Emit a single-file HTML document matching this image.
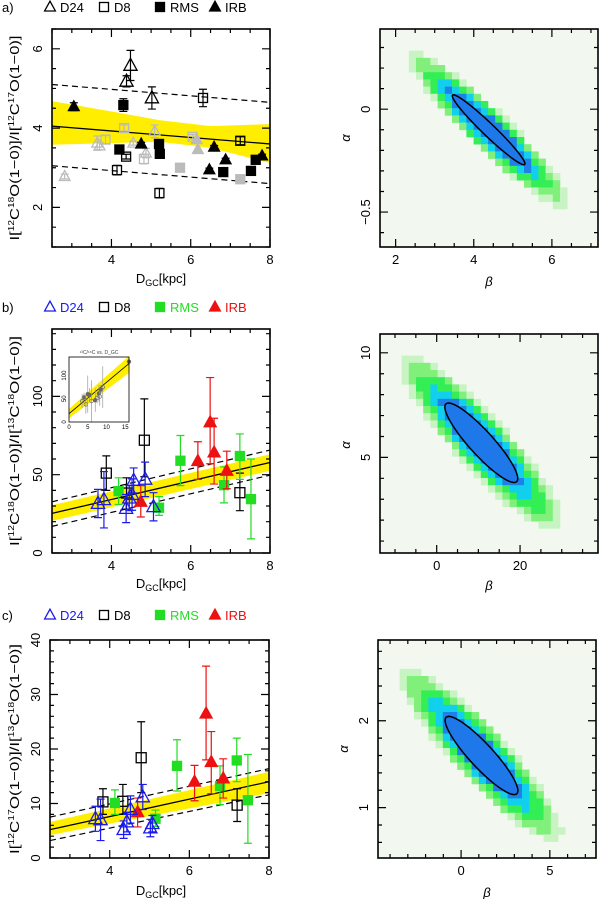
<!DOCTYPE html>
<html><head><meta charset="utf-8"><style>
html,body{margin:0;padding:0;background:#fff;}
svg{display:block;font-family:"Liberation Sans",Arial,sans-serif;}
</style></head><body>
<svg id="fig" width="600" height="899" viewBox="0 0 600 899" xmlns="http://www.w3.org/2000/svg"></svg>
<script>
// ---------- Panel a data ----------
const aD24X=[4.48,4.38,5.02], aD24Y=[5.58,5.18,4.76], aD24E=[0.38,0.14,0.28];
const aD8X=[6.31,7.25,4.37,4.14,5.21], aD8Y=[4.76,3.68,3.28,2.94,2.36], aD8E=[0.22,0.1,0.06,0.12,0.12];
const aRmsX=[4.30,4.20,5.20,5.22,6.82,7.52,7.64], aRmsY=[4.58,3.46,3.60,3.35,2.89,2.92,3.20], aRmsE=[0.16,0.04,0.08,0.1,0.04,0.04,0.06];
const aIrbX=[3.05,4.75,6.59,6.88,6.47,7.80], aIrbY=[4.54,3.60,3.52,3.20,2.95,3.30], aIrbE=[0.1,0.04,0.04,0.04,0.04,0.04];
const aGTriX=[2.82,3.64,4.55,4.87,5.09,3.70], aGTriY=[2.78,3.62,3.62,3.37,3.92,3.55], aGTriE=[0.06,0.18,0.05,0.12,0.16,0.1];
const aGSqX=[4.32,3.85,4.82,6.05], aGSqY=[4.00,3.71,3.22,3.78], aGSqE=[0.08,0.1,0.12,0.06];
const aGFTriX=[6.15,6.18], aGFTriY=[3.71,3.46];
const aGFSqX=[5.73,7.25], aGFSqY=[3.00,2.71];
const aFit=[4.05,3.60], aDashU=[5.1,4.65], aDashL=[3.05,2.6];
const aBandX=[2.5,4.0,5.2,6.5,8.0], aBandU=[4.68,4.42,4.2,4.05,4.1], aBandL=[3.58,3.62,3.66,3.5,3.12];
// ---------- Panel b data ----------
const bD24X=[3.66,3.81,4.37,4.45,4.52,4.56,4.85,5.06], bD24Y=[31.6,34,28.4,35,37.3,46.3,47,29.5], bD24E=[9,18,9,8,10,8,11,9];
const bD8X=[3.87,4.38,4.83,7.24], bD8Y=[51,38.3,72,38.5], bD8Lo=[40,28,48.7,27], bD8Hi=[62,48,98.4,51];
const bRmsX=[4.18,5.20,5.74,6.84,7.24,7.52], bRmsY=[39.5,28.9,58.9,43.3,61.9,34.4], bRmsLo=[31,24,43,32,47,9], bRmsHi=[48,36,75,55,76,60];
const bIrbX=[4.74,6.18,6.49,6.59,6.91], bIrbY=[32.7,58.7,83.4,64.2,52.5], bIrbLo=[23,47,57,44,41], bIrbHi=[43,71,112,86,65];
const bFit=[25.3,57.8], bDashU=[32.7,65.7], bDashL=[17,49.7], bBandU=[30.5,63], bBandL=[20.5,52.5];
const insetX=[4,4.5,5.5,6,7,7.5,8,8.2,8.5,3.5,5,9,16], insetY=[53,38,58,45,47,52,62,55,70,45,60,75,130], insetE=[10,20,15,45,25,12,18,20,10,15,40,45,8];
const insetFit=[18,126];
// ---------- Panel c data ----------
const cD24X=[3.64,3.77,4.35,4.43,4.52,4.83,5.02,5.07], cD24Y=[7.2,7.0,5.2,6.6,8.9,11.2,5.5,6.3], cD24E=[2.3,3.8,1.6,1.8,2.5,2.3,1.6,1.5];
const cD8X=[3.83,4.33,4.79,7.20], cD8Y=[10.3,10.4,18.4,9.7], cD8Lo=[8,8,12,6.7], cD8Hi=[12.7,13.5,25,12.7];
const cRmsX=[4.13,5.15,5.69,6.77,7.19,7.47], cRmsY=[10.1,7.2,16.9,13.2,17.9,10.6], cRmsLo=[8,5.8,12.3,9.8,14,2.7], cRmsHi=[12.5,8.8,21.7,16.9,22,19];
const cIrbX=[4.70,6.13,6.42,6.55,6.85], cIrbY=[8.4,14,26.5,17.6,14.6], cIrbLo=[5.7,10.5,18,11.8,11], cIrbHi=[11,17,35.2,23.2,18.2];
const cFit=[5.2,14.0], cDashU=[7.5,16.4], cDashL=[3.2,11.6], cBandU=[6.6,15.8], cBandL=[4.2,11.9];
// ---------- Likelihood maps (mean beta, mean alpha, sigma beta, sigma alpha, rho contour, rho map) ----------
const mapA=[4.38,-0.10,0.93,0.17,-0.97,-0.935];
const mapB=[10.7,5.7,8.75,1.9,-0.9,-0.9];
const mapC=[1.15,1.6,2.05,0.45,-0.9,-0.9];

const NS='http://www.w3.org/2000/svg';
const svg=document.getElementById('fig');
function el(tag,attrs,parent){const e=document.createElementNS(NS,tag);for(const k in attrs)e.setAttribute(k,attrs[k]);(parent||svg).appendChild(e);return e;}
function sc(d0,d1,p0,p1){return v=>p0+(v-d0)/(d1-d0)*(p1-p0);}

function frame(g,P,xt,xminor,yt,yminor){
  const X=sc(P.xmin,P.xmax,P.x0,P.x1), Y=sc(P.ymin,P.ymax,P.y1,P.y0);
  const f=el('rect',{x:P.x0,y:P.y0,width:P.x1-P.x0,height:P.y1-P.y0,fill:'none',stroke:'#000','stroke-width':1.6},g);
  
  
  let d='';
  for(let v=Math.ceil(P.xmin/xminor)*xminor;v<=P.xmax+1e-9;v+=xminor){const px=X(v);const maj=xt.some(t=>Math.abs(t-v)<1e-6);const L=maj?8:4;d+=`M${px},${P.y1}v${-L}M${px},${P.y0}v${L}`;}
  for(let v=Math.ceil(P.ymin/yminor)*yminor;v<=P.ymax+1e-9;v+=yminor){const py=Y(v);const maj=yt.some(t=>Math.abs(t-v)<1e-6);const L=maj?8:4;d+=`M${P.x0},${py}h${L}M${P.x1},${py}h${-L}`;}
  const tk=el('path',{d:d,stroke:'#000','stroke-width':1.2,fill:'none'},g);
  
  
  xt.forEach(v=>{const t=el('text',{x:X(v),y:P.y1+17,'font-size':13,'text-anchor':'middle'},g);t.textContent=String(v).replace('-','−');
    
    });
  yt.forEach(v=>{const yy=Y(v);const t=el('text',{x:P.x0-10,y:yy,'font-size':13,'text-anchor':'middle',transform:`rotate(-90 ${P.x0-10} ${yy})`},g);t.textContent=String(v).replace('-','−');
    
    });
  return {X,Y};
}

function errbar(g,px,pyLo,pyHi,col){
  const e=el('path',{d:`M${px},${pyLo}V${pyHi}M${px-4},${pyLo}h8M${px-4},${pyHi}h8`,stroke:col,'stroke-width':1.2,fill:'none'},g);
  
  
}
function marker(g,kind,px,py,col,s){
  s=s||9;let m;
  if(kind==='osq'||kind==='fsq'){m=el('rect',{x:px-s/2,y:py-s/2,width:s,height:s,fill:kind==='fsq'?col:'none',stroke:col,'stroke-width':1.3},g);}
  else{const h=s*1.05;m=el('path',{d:`M${px},${py-h*0.62}L${px+s*0.6},${py+h*0.42}L${px-s*0.6},${py+h*0.42}Z`,fill:kind==='ftri'?col:'none',stroke:col,'stroke-width':1.3},g);}
  
  
}
function series(g,S,kind,xs,ys,lo,hi,col,sz){
  xs.forEach((x,i)=>{if(lo)errbar(g,S.X(x),S.Y(lo[i]),S.Y(hi[i]),col);marker(g,kind,S.X(x),S.Y(ys[i]),col,sz);});
}
function lines(g,S,P,fit,du,dl,bandX,bU,bL){
  const pts=bandX.map((x,i)=>`${S.X(x)},${S.Y(bU[i])}`).concat(bandX.slice().reverse().map((x,i)=>`${S.X(x)},${S.Y(bL[bandX.length-1-i])}`));
  const b=el('polygon',{points:pts.join(' '),fill:'#ffee00',stroke:'none'},g);
  
  
  const f=el('line',{x1:S.X(P.xmin),y1:S.Y(fit[0]),x2:S.X(P.xmax),y2:S.Y(fit[1]),stroke:'#000','stroke-width':1.3},g);
  
  
  [du,dl].forEach(d=>{const l=el('line',{x1:S.X(P.xmin),y1:S.Y(d[0]),x2:S.X(P.xmax),y2:S.Y(d[1]),stroke:'#000','stroke-width':1.2,'stroke-dasharray':'6,4'},g);
    
    });
}
function legend(y,letter,colored){
  const g=el('g',{'font-size':13});
  
  
  const c=colored?['#1a1aee','#000','#22dd22','#ee1111']:['#000','#000','#000','#000'];
  const lt=el('text',{x:2,y:y+5},g);lt.textContent=letter+')';
  
  
  const items=[['otri',50,'D24'],['osq',104,'D8'],['fsq',160,'RMS'],['ftri',215,'IRB']];
  items.forEach((it,i)=>{marker(g,it[0],it[1],y,c[i],9);
    const t=el('text',{x:it[1]+10,y:y+5,fill:c[i]},g);t.textContent=it[2];
    
    });
}
function ytitle(x,yc,len,parts){
  const t=el('text',{x:x,y:yc,'font-size':13,'text-anchor':'middle',transform:`rotate(-90 ${x} ${yc})`,textLength:len,lengthAdjust:'spacingAndGlyphs'});
  
  
  parts.forEach(p=>{const s=el('tspan',p[1]?{'font-size':8,dy:-5}:{dy:0},t);s.textContent=p[0];
    if(p[1]){const r=el('tspan',{dy:5,'font-size':13},t);r.textContent=p[2]||'';}});
}
function xtitle(xc,y){
  const t=el('text',{x:xc,y:y,'font-size':13,'text-anchor':'middle'});
  
  
  const a=el('tspan',{},t);a.textContent='D';
  const b=el('tspan',{'font-size':9,dy:3},t);b.textContent='GC';
  const c=el('tspan',{dy:-3},t);c.textContent='[kpc]';
}
function greek(x,y,ch,rot){
  const t=el('text',{x:x,y:y,'font-size':13,'font-style':'italic','text-anchor':'middle',transform:rot?`rotate(-90 ${x} ${y})`:''});
  t.textContent=ch;
  
  
}
function heat(P,M,xt,xminor,yt,yminor){
  const g=el('g',{});
  
  
  const bg=el('rect',{x:P.x0,y:P.y0,width:P.x1-P.x0,height:P.y1-P.y0,fill:'#f2f8f0'},g);
  
  
  const Xi=sc(P.x0,P.x1,P.xmin,P.xmax), Yi=sc(P.y1,P.y0,P.ymin,P.ymax);
  const [mb,ma,sb,sa,r,rh]=M, cs=7.2;
  for(let py=P.y0;py<P.y1-0.5;py+=cs)for(let px=P.x0;px<P.x1-0.5;px+=cs){
    const u=(Xi(px+cs/2)-mb)/sb, v=(Yi(py+cs/2)-ma)/sa;
    const q=(u*u-2*rh*u*v+v*v)/(1-rh*rh);
    let col=null;
    if(q<1.3)col='#1e80e8';else if(q<2.0)col='#10d0ee';else if(q<3.0)col='#33ee55';else if(q<4.0)col='#80f07a';else if(q<4.9)col='#c8f4c4';
    if(col){const c=el('rect',{x:px,y:py,width:Math.min(cs,P.x1-px)+0.3,height:Math.min(cs,P.y1-py)+0.3,fill:col},g);
      
      }
  }
  const X=sc(P.xmin,P.xmax,P.x0,P.x1), Y=sc(P.ymin,P.ymax,P.y1,P.y0);
  const pts=[];for(let i=0;i<72;i++){const t=i/72*2*Math.PI;const b=mb+sb*Math.cos(t);const a=ma+sa*(r*Math.cos(t)+Math.sqrt(1-r*r)*Math.sin(t));pts.push(X(b)+','+Y(a));}
  const ct=el('polygon',{points:pts.join(' '),fill:'#1e78ea',stroke:'#000','stroke-width':1.5},g);
  
  
  frame(g,P,xt,xminor,yt,yminor);
}

// ===== Panel a =====
legend(7,'a',false);
const PA={x0:52,x1:270,y0:29,y1:247,xmin:2.5,xmax:8,ymin:1,ymax:6.5};
const gA=el('g',{});
const SA={X:sc(PA.xmin,PA.xmax,PA.x0,PA.x1),Y:sc(PA.ymin,PA.ymax,PA.y1,PA.y0)};
lines(gA,SA,PA,aFit,aDashU,aDashL,aBandX,aBandU,aBandL);
const GR='#bbbbbb';
series(gA,SA,'otri',aGTriX,aGTriY,aGTriY.map((y,i)=>y-aGTriE[i]),aGTriY.map((y,i)=>y+aGTriE[i]),GR);
series(gA,SA,'osq',aGSqX,aGSqY,aGSqY.map((y,i)=>y-aGSqE[i]),aGSqY.map((y,i)=>y+aGSqE[i]),GR);
series(gA,SA,'ftri',aGFTriX,aGFTriY,null,null,GR);
series(gA,SA,'fsq',aGFSqX,aGFSqY,null,null,GR);
series(gA,SA,'otri',aD24X,aD24Y,aD24Y.map((y,i)=>y-aD24E[i]),aD24Y.map((y,i)=>y+aD24E[i]),'#000',11);
series(gA,SA,'osq',aD8X,aD8Y,aD8Y.map((y,i)=>y-aD8E[i]),aD8Y.map((y,i)=>y+aD8E[i]),'#000');
series(gA,SA,'fsq',aRmsX,aRmsY,aRmsY.map((y,i)=>y-aRmsE[i]),aRmsY.map((y,i)=>y+aRmsE[i]),'#000');
series(gA,SA,'ftri',aIrbX,aIrbY,aIrbY.map((y,i)=>y-aIrbE[i]),aIrbY.map((y,i)=>y+aIrbE[i]),'#000');
frame(gA,PA,[4,6,8],0.5,[2,4,6],0.5);
ytitle(19,138,205,[['I['],['12',1,'C'],['18',1,'O(1−0)]/I['],['12',1,'C'],['17',1,'O(1−0)]']]);
xtitle(161,283);
heat({x0:380,x1:598,y0:29,y1:247,xmin:1.6,xmax:7.18,ymin:-0.67,ymax:0.39},mapA,[2,4,6],0.5,[0,-0.5],0.1);
greek(489,286,'β');greek(350,138,'α',true);

// ===== Panel b =====
legend(307,'b',true);
const PB={x0:52,x1:270,y0:329,y1:553,xmin:2.5,xmax:8,ymin:0,ymax:143};
const gB=el('g',{});
const SB={X:sc(PB.xmin,PB.xmax,PB.x0,PB.x1),Y:sc(PB.ymin,PB.ymax,PB.y1,PB.y0)};
lines(gB,SB,PB,bFit,bDashU,bDashL,[2.5,8],bBandU,bBandL);
series(gB,SB,'osq',bD8X,bD8Y,bD8Lo,bD8Hi,'#000',10);
series(gB,SB,'fsq',bRmsX,bRmsY,bRmsLo,bRmsHi,'#22dd22',9);
series(gB,SB,'ftri',bIrbX,bIrbY,bIrbLo,bIrbHi,'#ee1111',10);
series(gB,SB,'otri',bD24X,bD24Y,bD24Y.map((y,i)=>y-bD24E[i]),bD24Y.map((y,i)=>y+bD24E[i]),'#1a1aee',11);
frame(gB,PB,[4,6,8],0.5,[0,50,100],10);
// inset
const PI={x0:69,x1:129,y0:357,y1:422,xmin:0,xmax:16,ymin:0,ymax:140};
const gI=el('g',{});
const SI={X:sc(PI.xmin,PI.xmax,PI.x0,PI.x1),Y:sc(PI.ymin,PI.ymax,PI.y1,PI.y0)};
const ib=el('polygon',{points:`${SI.X(0)},${SI.Y(insetFit[0]+10)} ${SI.X(16)},${SI.Y(insetFit[1]+16)} ${SI.X(16)},${SI.Y(insetFit[1]-20)} ${SI.X(0)},${SI.Y(insetFit[0]-10)}`,fill:'#ffee00'},gI);

const il=el('line',{x1:SI.X(0),y1:SI.Y(insetFit[0]),x2:SI.X(16),y2:SI.Y(insetFit[1]),stroke:'#000','stroke-width':0.8},gI);

insetX.forEach((x,i)=>{const e=el('path',{d:`M${SI.X(x)},${SI.Y(insetY[i]-insetE[i])}V${SI.Y(insetY[i]+insetE[i])}`,stroke:'#999','stroke-width':0.7},gI);
  
  const c=el('circle',{cx:SI.X(x),cy:SI.Y(insetY[i]),r:1.8,fill:i%2?'none':'#666',stroke:'#666','stroke-width':0.7},gI);
  });
const ifr=el('rect',{x:PI.x0,y:PI.y0,width:PI.x1-PI.x0,height:PI.y1-PI.y0,fill:'none',stroke:'#000','stroke-width':0.8},gI);

[0,5,10,15].forEach(v=>{const t=el('text',{x:SI.X(v),y:PI.y1+7,'font-size':6,'text-anchor':'middle'},gI);t.textContent=v;
  });
[0,50,100].forEach(v=>{const yy=SI.Y(v);const t=el('text',{x:PI.x0-3,y:yy,'font-size':6,'text-anchor':'middle',transform:`rotate(-90 ${PI.x0-3} ${yy})`},gI);t.textContent=v;
  });
const it=el('text',{x:99,y:354,'font-size':5,'text-anchor':'middle',fill:'#444'},gI);it.textContent='¹³C/¹⁸C vs. D_GC';

ytitle(19,441,210,[['I['],['12',1,'C'],['18',1,'O(1−0)]/I['],['13',1,'C'],['18',1,'O(1−0)]']]);
xtitle(161,588);
heat({x0:380,x1:598,y0:334,y1:553,xmin:-13.6,xmax:38.7,ymin:0.43,ymax:10.9},mapB,[0,20],5,[5,10],1);
greek(489,590,'β');greek(350,445,'α',true);

// ===== Panel c =====
legend(615,'c',true);
const PC={x0:50,x1:269,y0:640,y1:858,xmin:2.5,xmax:8,ymin:0,ymax:40};
const gC=el('g',{});
const SC={X:sc(PC.xmin,PC.xmax,PC.x0,PC.x1),Y:sc(PC.ymin,PC.ymax,PC.y1,PC.y0)};
lines(gC,SC,PC,cFit,cDashU,cDashL,[2.5,8],cBandU,cBandL);
series(gC,SC,'osq',cD8X,cD8Y,cD8Lo,cD8Hi,'#000',10);
series(gC,SC,'fsq',cRmsX,cRmsY,cRmsLo,cRmsHi,'#22dd22',9);
series(gC,SC,'ftri',cIrbX,cIrbY,cIrbLo,cIrbHi,'#ee1111',10);
series(gC,SC,'otri',cD24X,cD24Y,cD24Y.map((y,i)=>y-cD24E[i]),cD24Y.map((y,i)=>y+cD24E[i]),'#1a1aee',11);
frame(gC,PC,[4,6,8],0.5,[0,10,20,30,40],2);
ytitle(19,749,210,[['I['],['12',1,'C'],['17',1,'O(1−0)]/I['],['13',1,'C'],['18',1,'O(1−0)]']]);
xtitle(161,895);
heat({x0:378,x1:596,y0:640,y1:858,xmin:-4.68,xmax:7.6,ymin:0.42,ymax:2.93},mapC,[0,5],1,[1,2],0.2);
greek(487,897,'β');greek(348,749,'α',true);
</script>
</body></html>
